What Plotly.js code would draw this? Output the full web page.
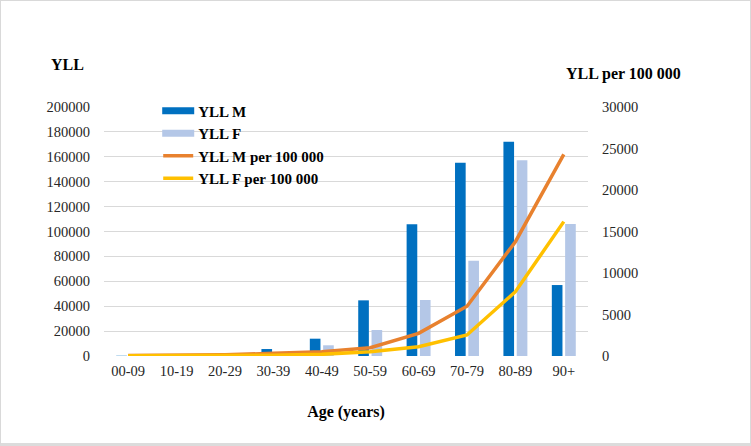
<!DOCTYPE html>
<html>
<head>
<meta charset="utf-8">
<script src="https://cdn.plot.ly/plotly-3.0.1.min.js"></script>
<style>
html,body{margin:0;padding:0;background:#fff;}
#wrap{width:751px;height:446px;box-sizing:border-box;border:1px solid #d9d9d9;border-bottom:3px solid #dcdcdc;position:relative;overflow:hidden;}
#chart{position:absolute;left:-1px;top:-1px;width:751px;height:446px;}
</style>
</head>
<body>
<div id="wrap"><div id="chart"></div></div>
<script>
const ageGroups = ["00-09","10-19","20-29","30-39","40-49","50-59","60-69","70-79","80-89","90+"];
const yllM = [200, 300, 1000, 5600, 13900, 44700, 105800, 155300, 172100, 57000];
const yllF = [100, 200, 600, 3000, 8600, 20900, 45000, 76600, 157200, 106000];
const yllMPer100k = [50, 60, 150, 320, 520, 1000, 2730, 6000, 13770, 24300];
const yllFPer100k = [30, 20, 40, 100, 200, 520, 1120, 2530, 7750, 16190];
const leftTicks = [0,20000,40000,60000,80000,100000,120000,140000,160000,180000,200000];
const rightTicks = [0,5000,10000,15000,20000,25000,30000];

const serif = "Liberation Serif";
const txt = "#262626";

const data = [
  {type:"bar", name:"<b>YLL M</b>", x:ageGroups, y:yllM, marker:{color:"#0070C0"}, yaxis:"y"},
  {type:"bar", name:"<b>YLL F</b>", x:ageGroups, y:yllF, marker:{color:"#B4C7E7"}, yaxis:"y"},
  {type:"scatter", mode:"lines", name:"<b>YLL M per 100 000</b>", x:ageGroups, y:yllMPer100k, line:{color:"#E8812E", width:3.5}, yaxis:"y2"},
  {type:"scatter", mode:"lines", name:"<b>YLL F per 100 000</b>", x:ageGroups, y:yllFPer100k, line:{color:"#FFC000", width:3.5}, yaxis:"y2"}
];

const layout = {
  width:751, height:446,
  margin:{l:104, r:163, t:107, b:90},
  paper_bgcolor:"#ffffff", plot_bgcolor:"#ffffff",
  font:{family:serif, size:14.5, color:txt},
  barmode:"group", bargap:0.45, bargroupgap:0.2,
  showlegend:true,
  legend:{x:0.112, y:1.05, xanchor:"left", yanchor:"top", bgcolor:"rgba(0,0,0,0)",
          font:{family:serif, size:15, color:"#000"}, tracegroupgap:0, traceorder:"normal"},
  xaxis:{type:"category", showgrid:false, zeroline:false, showline:false, ticks:"", ticklabelstandoff:4,
         tickfont:{family:serif, size:14.5, color:txt},
         title:{text:"<b>Age (years)</b>", font:{family:serif, size:16, color:"#000"}, standoff:28}},
  yaxis:{range:[0,200000], tickvals:leftTicks, ticktext:leftTicks.map(String), showgrid:true, gridcolor:"#d9d9d9", gridwidth:1,
         zeroline:false, showline:false, ticks:"", ticklabelstandoff:13,
         tickfont:{family:serif, size:14.5, color:txt}},
  yaxis2:{range:[0,30000], tickvals:rightTicks, ticktext:rightTicks.map(String), overlaying:"y", side:"right", showgrid:false,
          zeroline:false, showline:false, ticks:"", ticklabelstandoff:13,
          tickfont:{family:serif, size:14.5, color:txt}},
  annotations:[
    {text:"<b>YLL</b>", xref:"paper", yref:"paper", x:(67-104)/484, y:(356-65)/249, xanchor:"center", yanchor:"middle", showarrow:false,
     font:{family:serif, size:16, color:"#000"}},
    {text:"<b>YLL per 100 000</b>", xref:"paper", yref:"paper", x:(623-104)/484, y:(356-74)/249, xanchor:"center", yanchor:"middle", showarrow:false,
     font:{family:serif, size:16, color:"#000"}}
  ]
};

function widenBarSymbols(gd){
  gd.querySelectorAll(".legend .traces .legendpoints path").forEach(p => {
    const d = p.getAttribute("d") || "";
    if (/^M6,6H-6V-6H6Z$/.test(d)) p.setAttribute("d", "M16,3.5H-16V-3.5H16Z");
  });
}

Plotly.newPlot("chart", data, layout, {displayModeBar:false, staticPlot:true}).then(gd => {
  widenBarSymbols(gd);
  gd.on("plotly_afterplot", () => widenBarSymbols(gd));
});
</script>
</body>
</html>
